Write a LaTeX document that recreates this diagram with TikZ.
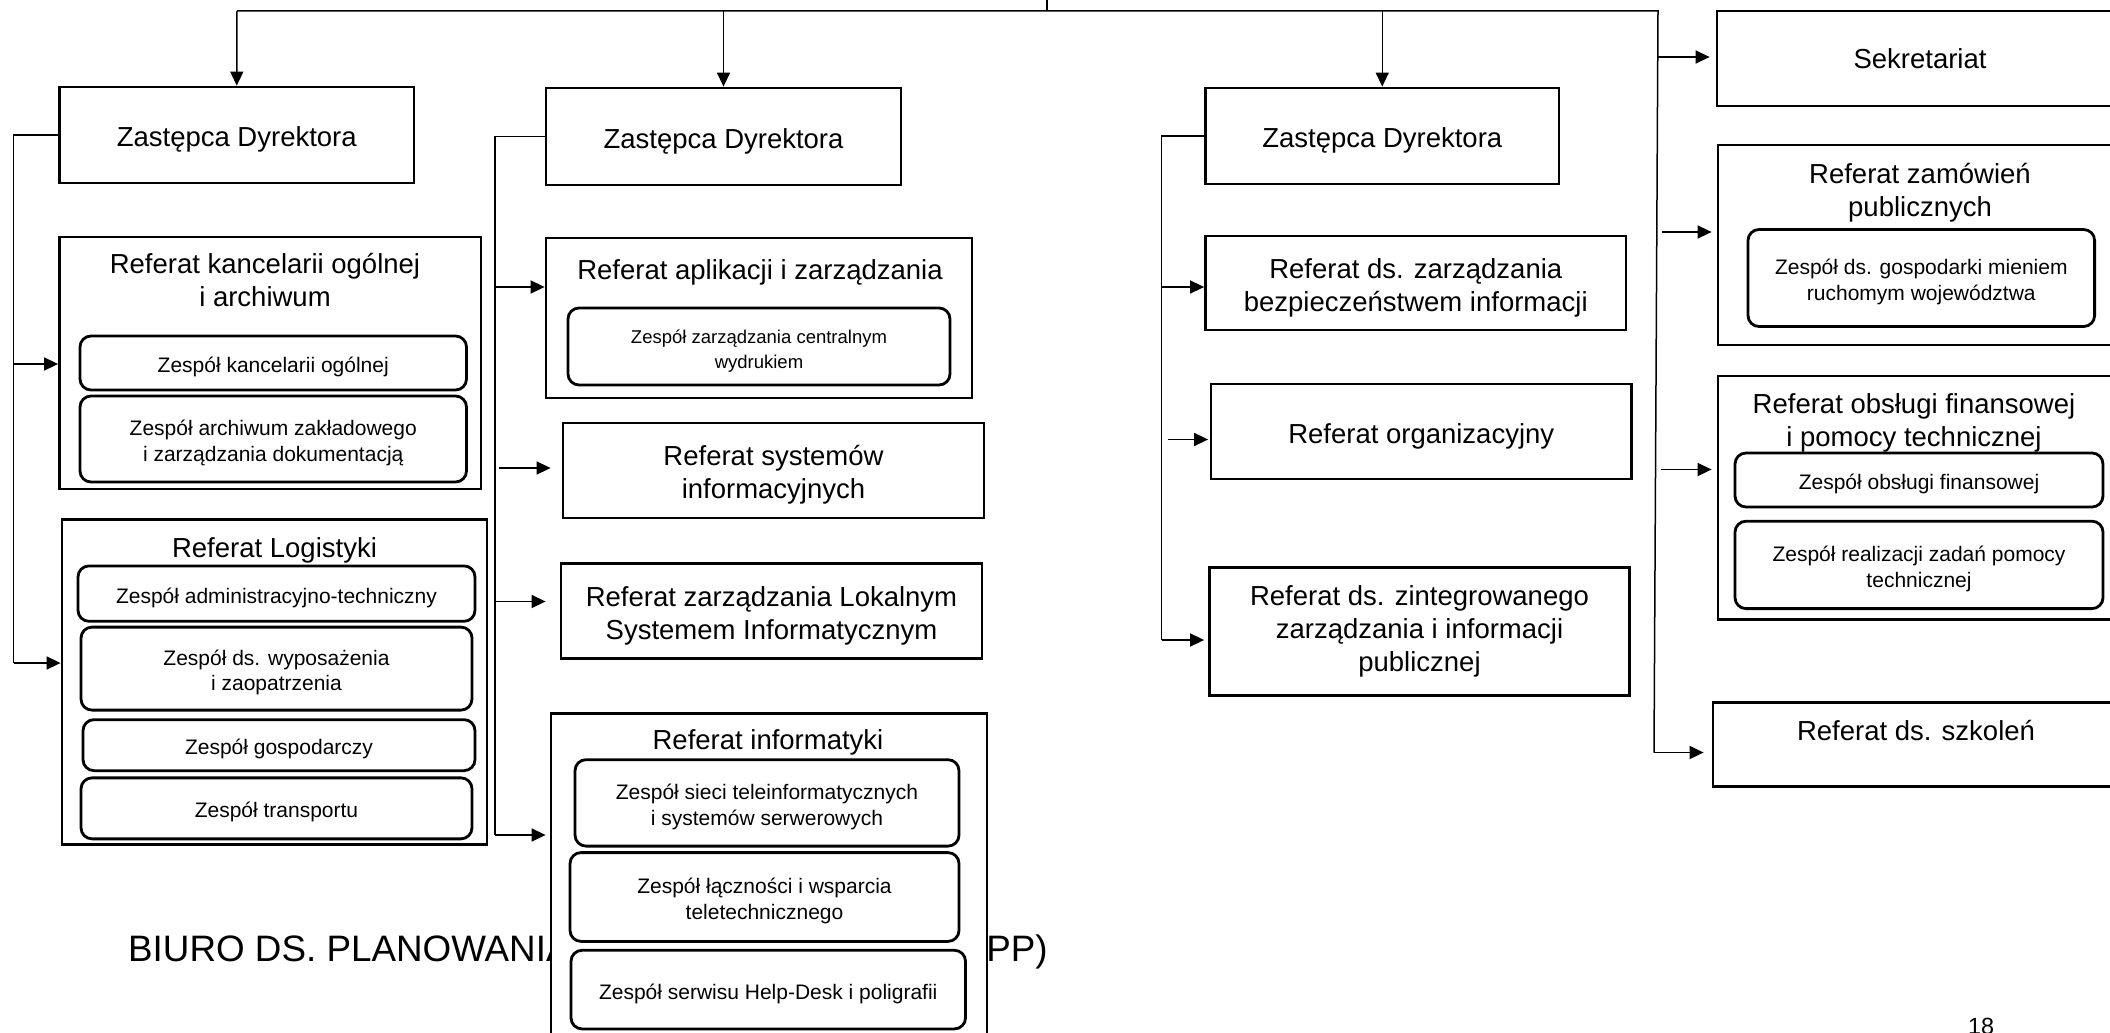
\documentclass[tikz,border=0pt]{standalone}
\usepackage{fontspec}
\setmainfont{Liberation Sans}
\usetikzlibrary{arrows.meta}
\newcommand\Tfont{\fontsize{27.5}{33}\selectfont}
\newcommand\Zfont{\fontsize{21}{25.5}\selectfont}
\newcommand\Sfont{\fontsize{18.5}{25}\selectfont}
\newcommand\dnT{\rule{0pt}{29pt}}
\newcommand\dnZ{\rule{0pt}{23.5pt}}
\begin{document}
\begin{tikzpicture}[x=1pt,y=-1pt,
  box/.style={draw, line width=2.8pt, fill=white, inner sep=0pt, align=center, font=\Tfont},
  rbox/.style={box, rounded corners=11pt, font=\Zfont},
  cont/.style={draw, line width=2.8pt, fill=white, inner sep=0pt},
  ttl/.style={inner sep=0pt, align=center, font=\Tfont},
  conn/.style={line width=1.5pt, black},
  arr/.style={conn, -{Triangle[length=14pt,width=13pt]}}]
\useasboundingbox (0,0) rectangle (2110,1033);
\clip (0,0) rectangle (2110,1033);
\fill[white] (0,0) rectangle (2110,1033);

% background title text (partly hidden)
\node[inner sep=0pt, anchor=base west, font=\fontsize{36.8}{40}\selectfont] (biuro) at (128,961) {BIURO DS. PLANOWANIA I PROGRAMOWANIA (BPP)};
\node[inner sep=0pt, anchor=base, font=\fontsize{23.4}{26}\selectfont] (page) at (1981,1034) {18};

% --- column 1
\node[box, minimum width=354.5pt, minimum height=96pt] (ZD1) at (236.75,135) {\dnT Zastępca Dyrektora};
\node[cont, minimum width=421.5pt, minimum height=252pt] (RK) at (270.25,363) {};
\node[ttl] (RKt) at (265,280) {Referat kancelarii ogólnej\\i archiwum};
\node[rbox, minimum width=386.5pt, minimum height=54pt] (ZKO) at (273.25,363) {\dnZ Zespół kancelarii ogólnej};
\node[rbox, minimum width=386.5pt, minimum height=86pt] (ZAZ) at (273.25,439) {\dnZ Zespół archiwum zakładowego\\i zarządzania dokumentacją};
\node[cont, minimum width=425pt, minimum height=324.6pt] (RL) at (274.5,682.1) {};
\node[ttl] (RLt) at (274.5,550.5) {Referat Logistyki};
\node[rbox, minimum width=397pt, minimum height=55.4pt] (ZAD) at (276.5,593.6) {\dnZ Zespół administracyjno-techniczny};
\node[rbox, minimum width=391pt, minimum height=83pt] (ZWY) at (276.5,668.6) {\dnZ Zespół ds. wyposażenia\\i zaopatrzenia};
\node[rbox, minimum width=392pt, minimum height=51pt] (ZGO) at (279,745.15) {\dnZ Zespół gospodarczy};
\node[rbox, minimum width=391pt, minimum height=61pt] (ZTR) at (276.5,808.35) {\dnZ Zespół transportu};

% --- column 2
\node[box, minimum width=355pt, minimum height=97pt] (ZD2) at (723.5,136.5) {\dnT Zastępca Dyrektora};
\node[cont, minimum width=426pt, minimum height=160pt] (RA) at (759,318) {};
\node[ttl] (RAt) at (760,272) {Referat aplikacji i zarządzania};
\node[rbox, minimum width=382pt, minimum height=77pt, font=\Sfont] (ZZC) at (759,346.5) {\dnZ Zespół zarządzania centralnym\\wydrukiem};
\node[box, minimum width=421pt, minimum height=95pt] (RSI) at (773.5,470.5) {\dnT Referat systemów\\informacyjnych};
\node[box, minimum width=421pt, minimum height=95.7pt] (RLSI) at (771.5,611) {\dnT Referat zarządzania Lokalnym\\Systemem Informatycznym};
\node[cont, minimum width=436pt, minimum height=331.5pt] (RI) at (769,879.25) {};
\node[ttl] (RIt) at (768,742.5) {Referat informatyki};
\node[rbox, minimum width=384pt, minimum height=86.4pt] (ZST) at (767,802.9) {\dnZ Zespół sieci teleinformatycznych\\i systemów serwerowych};
\node[rbox, minimum width=389pt, minimum height=88.8pt] (ZLW) at (764.5,897) {\dnZ Zespół łączności i wsparcia\\teletechnicznego};
\node[rbox, minimum width=394.5pt, minimum height=78.6pt] (ZSH) at (768.25,989.6) {\dnZ Zespół serwisu Help-Desk i poligrafii};

% --- column 3
\node[box, minimum width=353.5pt, minimum height=96pt] (ZD3) at (1382.25,136) {\dnT Zastępca Dyrektora};
\node[box, minimum width=420.5pt, minimum height=94pt] (RDZ) at (1415.75,283) {\dnT Referat ds. zarządzania\\bezpieczeństwem informacji};
\node[box, minimum width=420.5pt, minimum height=95pt] (RO) at (1421.25,431.5) {\dnT Referat organizacyjny};
\node[box, minimum width=420pt, minimum height=128.2pt] (RZI) at (1419.5,631.7) {Referat ds. zintegrowanego\\zarządzania i informacji\\publicznej};

% --- column 4
\node[box, minimum width=406pt, minimum height=95pt] (SEK) at (1920,58.5) {Sekretariat};
\node[cont, minimum width=404pt, minimum height=200pt] (RZP) at (1920,245) {};
\node[ttl] (RZPt) at (1920,193) {Referat zamówień\\publicznych};
\node[rbox, minimum width=346.6pt, minimum height=97pt] (ZGM) at (1921.3,278) {\dnZ Zespół ds. gospodarki mieniem\\ruchomym województwa};
\node[cont, minimum width=404pt, minimum height=243.6pt] (RF) at (1920,497.8) {};
\node[ttl] (RFt) at (1914,423) {Referat obsługi finansowej\\i pomocy technicznej};
\node[rbox, minimum width=368pt, minimum height=54pt] (ZOF) at (1919,480) {\dnZ Zespół obsługi finansowej};
\node[rbox, minimum width=368pt, minimum height=87.4pt] (ZRZ) at (1919,564.9) {\dnZ Zespół realizacji zadań pomocy\\technicznej};
\node[cont, minimum width=410pt, minimum height=83.7pt] (SZK) at (1918,744.45) {};
\node[ttl] (SZKt) at (1916,731) {Referat ds. szkoleń};

% --- connectors: top
\coordinate (Dtop) at (1047,0);
\coordinate (Dj) at (1047,11);
\coordinate (T1) at (237,11);
\coordinate (T4) at (1658,11);
\coordinate (Rb) at (1654,752.5);
\draw[conn] (Dtop) -- (Dj);
\draw[conn] (T1) -- (T4) -- (Rb);
\draw[arr] (T1) -- (ZD1.north);
\draw[arr] (ZD2.north |- T1) -- (ZD2.north);
\draw[arr] (ZD3.north |- T1) -- (ZD3.north);

% right column branches
\coordinate (R1) at (1657.7,57);
\coordinate (R2) at (1662,232);
\coordinate (R3) at (1660.5,469.5);
\draw[arr, shorten >=6pt] (R1) -- (R1 -| SEK.west);
\draw[arr, shorten >=5pt] (R2) -- (R2 -| RZP.west);
\draw[arr, shorten >=5pt] (R3) -- (R3 -| RF.west);
\draw[arr, shorten >=8pt] (Rb) -- (Rb -| SZK.west);

% bracket 1
\coordinate (L1t) at (13.5,135);
\coordinate (L1b) at (13.5,663);
\coordinate (L1a) at (13.5,364);
\draw[conn] (ZD1.west) -- (L1t) -- (L1b);
\draw[arr] (L1a) -- (L1a -| RK.west);
\draw[arr] (L1b) -- (L1b -| RL.west);

% bracket 2
\coordinate (L2t) at (495,136.5);
\coordinate (L2b) at (495,835);
\coordinate (L2a) at (495,287);
\coordinate (L2c) at (499,468);
\coordinate (L2d) at (495,601.5);
\draw[conn] (ZD2.west) -- (L2t) -- (L2b);
\draw[arr] (L2a) -- (L2a -| RA.west);
\draw[arr, shorten >=11pt] (L2c) -- (L2c -| RSI.west);
\draw[arr, shorten >=14pt] (L2d) -- (L2d -| RLSI.west);
\draw[arr, shorten >=4pt] (L2b) -- (L2b -| RI.west);

% bracket 3
\coordinate (L3t) at (1161.5,136);
\coordinate (L3b) at (1161.5,640);
\coordinate (L3a) at (1161.5,287);
\coordinate (L3c) at (1168,439.5);
\draw[conn] (ZD3.west) -- (L3t) -- (L3b);
\draw[arr] (L3a) -- (L3a -| RDZ.west);
\draw[arr, shorten >=1.5pt] (L3c) -- (L3c -| RO.west);
\draw[arr, shorten >=4pt] (L3b) -- (L3b -| RZI.west);
\end{tikzpicture}
\end{document}
